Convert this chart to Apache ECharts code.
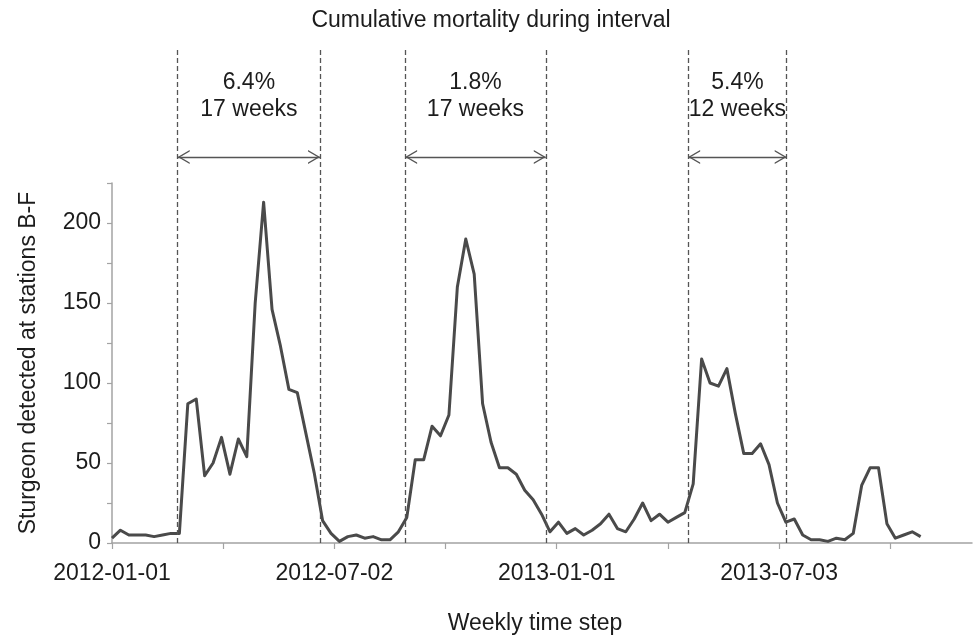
<!DOCTYPE html>
<html>
<head>
<meta charset="utf-8">
<style>
  html, body { margin: 0; padding: 0; background: #ffffff; }
  #chart { width: 974px; height: 638px; }
</style>
<script src="https://cdn.jsdelivr.net/npm/echarts@6.0.0/dist/echarts.min.js"></script>
</head>
<body>
<div id="chart"></div>
<script>
// Sturgeon detected at stations B-F, one value per weekly time step starting 2012-01-01
const detections = [
  3, 8, 5, 5, 5, 4, 5, 6, 6, 87,
  90, 42, 50, 66, 43, 65, 54, 150, 213, 146,
  123, 96, 94, 69, 44, 14, 6, 1, 4, 5,
  3, 4, 2, 2, 7, 16, 52, 52, 73, 67,
  80, 160, 190, 168, 87, 63, 47, 47, 43, 33,
  27, 18, 7, 13, 6, 9, 5, 8, 12, 18,
  9, 7, 15, 25, 14, 18, 13, 16, 19, 37,
  115, 100, 98, 109, 81, 56, 56, 62, 49, 25,
  13, 15, 5, 2, 2, 1, 3, 2, 6, 36,
  47, 47, 12, 3, 5, 7, 4
];

// Date labels for the quarterly ticks of the time axis (every other tick is unlabelled)
const tickLabels = ['2012-01-01', '', '2012-07-02', '', '2013-01-01', '', '2013-07-03', ''];

// Mortality intervals, in weeks from the first time step
const intervalStart = [7.8, 34.8, 68.4];
const intervalEnd = [24.7, 51.5, 80.1];
const mortality = ['6.4%', '1.8%', '5.4%'];
const durations = ['17 weeks', '17 weeks', '12 weeks'];

const FONT = 'Liberation Sans, Arial, Helvetica, sans-serif';
const TEXT = '#1c1c1c';
const AXIS = '#a3a3a3';
const INK = '#4a4a4a';
const TICK_WEEKS = 13.2;      // about three months per tick
const X_MAX = 102.1;          // the axis runs on to the right edge
const ARROW_Y = 0.783;        // height of the interval arrows in the annotation band
const TEXT_Y = 0.906;         // height of the interval captions

const tickValues = tickLabels.map((_, i) => +(i * TICK_WEEKS).toFixed(4));
const labelValues = tickValues.filter((_, i) => tickLabels[i] !== '');

// open chevron arrowhead, tip at the centre of its box
const chevron = 'path://M7,0 L7.01,0 L7,0 Z M0,24 L7,12 L14,24 L12.4,24 L7,14.6 L1.6,24 Z';

const chart = echarts.init(document.getElementById('chart'), null, { renderer: 'canvas' });

const boundaryLines = intervalStart.concat(intervalEnd).map(w => ({
  xAxis: w,
  symbol: 'none',
  lineStyle: { type: [5, 3], width: 1.3, color: '#555555' }
}));

const arrows = intervalStart.map((s, i) => [
  { coord: [s, ARROW_Y], symbol: chevron, symbolSize: [14, 24] },
  { coord: [intervalEnd[i], ARROW_Y], symbol: chevron, symbolSize: [14, 24] }
]);

const captions = intervalStart.map((s, i) => ({
  value: [(s + intervalEnd[i]) / 2, TEXT_Y],
  caption: mortality[i] + '\n' + durations[i]
}));

chart.setOption({
  animation: false,
  backgroundColor: '#ffffff',
  textStyle: { fontFamily: FONT },
  grid: [
    { left: 112, top: 183, width: 860, height: 360 },
    { left: 112, top: 50, width: 860, height: 493 }
  ],
  xAxis: [
    {
      type: 'value',
      gridIndex: 0,
      min: 0,
      max: X_MAX,
      interval: TICK_WEEKS,
      axisLine: { show: true, lineStyle: { color: AXIS, width: 1.5 } },
      axisTick: {
        show: true, length: 6, customValues: tickValues,
        lineStyle: { color: AXIS, width: 1.2 }
      },
      splitLine: { show: false },
      axisLabel: {
        margin: 19,
        fontSize: 23,
        color: TEXT,
        fontFamily: FONT,
        customValues: labelValues,
        formatter: v => tickLabels[Math.round(v / TICK_WEEKS)] || ''
      }
    },
    {
      type: 'value',
      gridIndex: 1,
      min: 0,
      max: X_MAX,
      show: false
    }
  ],
  yAxis: [
    {
      type: 'value',
      gridIndex: 0,
      min: 0,
      max: 225,
      interval: 25,
      name: 'Sturgeon detected at stations B-F',
      nameLocation: 'middle',
      nameGap: 72,
      nameRotate: 90,
      nameTextStyle: { fontSize: 23, color: TEXT, fontFamily: FONT },
      axisLine: { show: true, lineStyle: { color: AXIS, width: 1.5 } },
      axisTick: { show: true, length: 5, lineStyle: { color: AXIS, width: 1.2 } },
      splitLine: { show: false },
      axisLabel: {
        margin: 11,
        fontSize: 23,
        color: TEXT,
        fontFamily: FONT,
        formatter: v => (v % 50 === 0 ? String(v) : '')
      }
    },
    {
      type: 'value',
      gridIndex: 1,
      min: 0,
      max: 1,
      show: false
    }
  ],
  graphic: [
    {
      type: 'text',
      x: 491,
      y: 21,
      style: {
        text: 'Cumulative mortality during interval',
        fontSize: 23, fontFamily: FONT, fill: TEXT,
        align: 'center', verticalAlign: 'middle'
      }
    },
    {
      type: 'text',
      x: 535,
      y: 624,
      style: {
        text: 'Weekly time step',
        fontSize: 23, fontFamily: FONT, fill: TEXT,
        align: 'center', verticalAlign: 'middle'
      }
    }
  ],
  series: [
    {
      name: 'Detections',
      type: 'line',
      xAxisIndex: 0,
      yAxisIndex: 0,
      data: detections.map((v, i) => [i, v]),
      symbol: 'none',
      lineStyle: { color: INK, width: 3, join: 'round' },
      z: 3
    },
    {
      name: 'Intervals',
      type: 'scatter',
      xAxisIndex: 1,
      yAxisIndex: 1,
      symbolSize: 0,
      silent: true,
      itemStyle: { opacity: 1 },
      data: captions,
      label: {
        show: true,
        position: 'inside',
        fontSize: 23,
        lineHeight: 27,
        color: TEXT,
        opacity: 1,
        fontFamily: FONT,
        formatter: p => p.data.caption
      },
      markLine: {
        silent: true,
        animation: false,
        symbol: 'none',
        label: { show: false },
        lineStyle: { type: 'solid', width: 1.3, color: '#555555' },
        emphasis: { disabled: true },
        data: boundaryLines.concat(arrows)
      },
      z: 2
    }
  ]
});
</script>
</body>
</html>
